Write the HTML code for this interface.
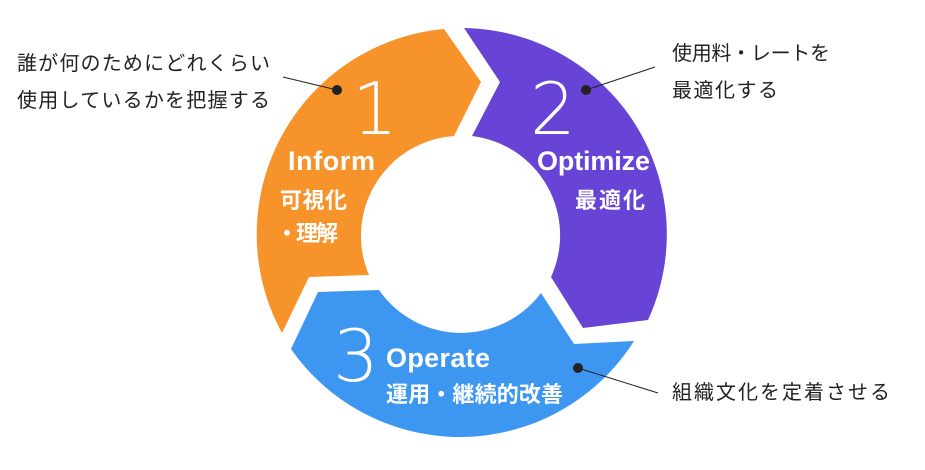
<!DOCTYPE html>
<html><head><meta charset="utf-8"><style>
html,body{margin:0;padding:0;background:#fff;}
svg{display:block;}
.lab{font-family:"Liberation Sans","Noto Sans CJK JP",sans-serif;font-size:20px;fill:#222;}
.w{fill:#fff;font-family:"Liberation Sans","Noto Sans CJK JP",sans-serif;font-weight:bold;}
.num{fill:#fff;font-family:"DejaVu Sans","Liberation Sans",sans-serif;font-weight:200;font-size:72px;}
</style></head><body>
<svg width="925" height="470" viewBox="0 0 925 470" xmlns="http://www.w3.org/2000/svg">
<path d="M282,333 A206,206 0 0 1 444,29 L481,82 L454,136 A100,100 0 0 0 369,275 L309,277 Z" fill="#F7932B"/>
<path d="M464,28 A206,206 0 0 1 648,320 L583,328 L551,277 A100,100 0 0 0 472,136 L500,82 Z" fill="#6744D5"/>
<path d="M634,341 A206,206 0 0 1 291,349 L318,292 L379,290 A100,100 0 0 0 541,293 L574,344 Z" fill="#3D97F1"/>
<text class="num" x="352" y="134">1</text>
<text class="num" x="530" y="134">2</text>
<text class="num" x="333" y="381">3</text>
<text class="w" x="288" y="170" font-size="27" textLength="87">Inform</text>
<text class="w" x="280" y="208" font-size="22" textLength="67">可視化</text>
<text class="w" x="276" y="241" font-size="22" textLength="62">・理解</text>
<text class="w" x="537" y="170" font-size="27" textLength="113">Optimize</text>
<text class="w" x="575" y="208" font-size="22" textLength="70">最適化</text>
<text class="w" x="386" y="367" font-size="27" textLength="104">Operate</text>
<text class="w" x="386" y="402" font-size="22" textLength="177">運用・継続的改善</text>
<line x1="283" y1="77" x2="337" y2="90" stroke="#222" stroke-width="1"/>
<circle cx="337" cy="90" r="5" fill="#222"/>
<line x1="586" y1="90" x2="655" y2="67" stroke="#222" stroke-width="1"/>
<circle cx="586" cy="90" r="5" fill="#222"/>
<line x1="578" y1="368" x2="658" y2="393" stroke="#222" stroke-width="1"/>
<circle cx="578" cy="368" r="5" fill="#222"/>
<text class="lab" x="17" y="70" textLength="253">誰が何のためにどれくらい</text>
<text class="lab" x="17" y="107" textLength="253">使用しているかを把握する</text>
<text class="lab" x="672" y="60" textLength="158">使用料・レートを</text>
<text class="lab" x="672" y="97" textLength="106">最適化する</text>
<text class="lab" x="672" y="399" textLength="218">組織文化を定着させる</text>
</svg>
</body></html>
